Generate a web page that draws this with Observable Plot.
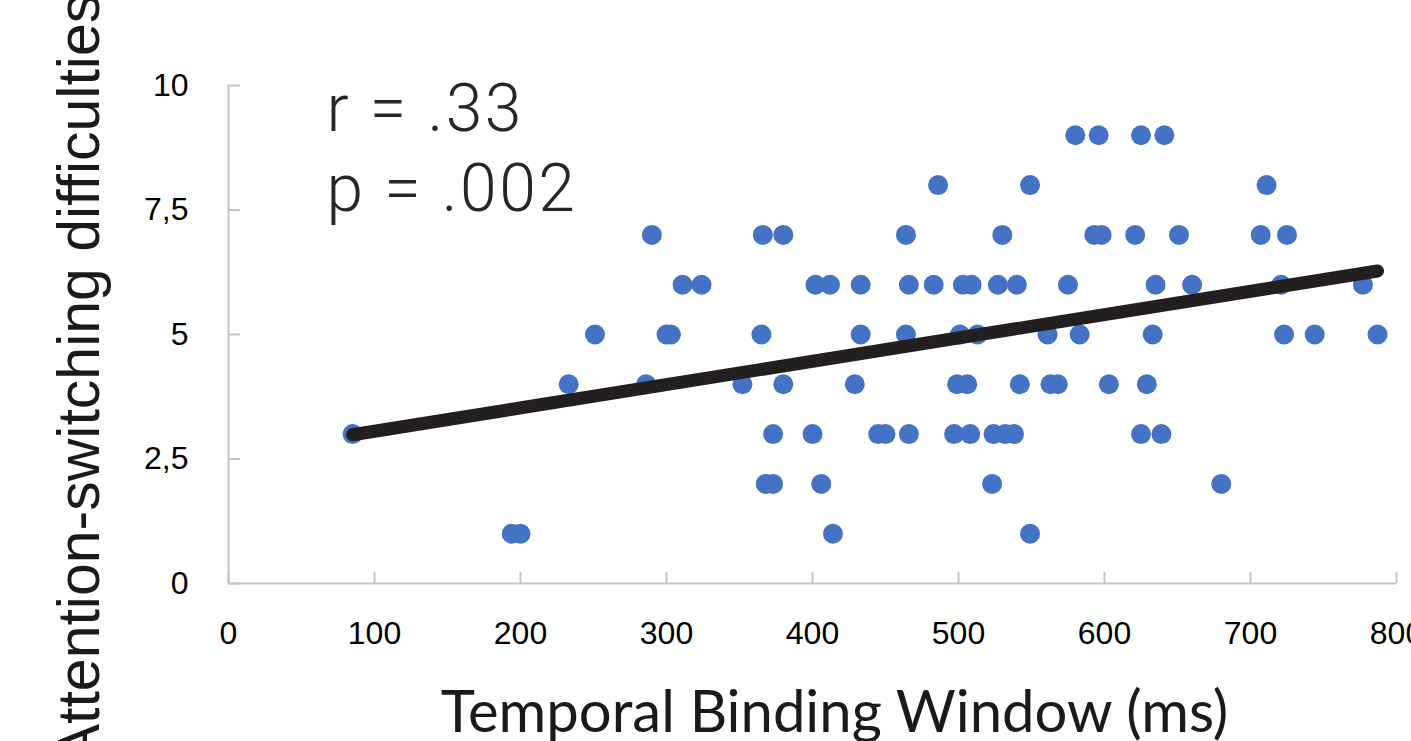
<!DOCTYPE html>
<html>
<head>
<meta charset="utf-8">
<script src="https://cdn.jsdelivr.net/npm/d3@7"></script>
<script src="https://cdn.jsdelivr.net/npm/@observablehq/plot@0.6"></script>
<style>
  html, body { margin: 0; padding: 0; background: #fff; overflow: hidden; }
  #chart svg { display: block; }
</style>
</head>
<body>
<div id="chart"></div>
<script>
// Temporal Binding Window (ms) for each participant
const tbwMs = [
  580, 596, 625, 641,
  486, 549, 711,
  290, 366, 380, 464, 530, 593, 598, 621, 651, 707, 725,
  311, 324, 402, 412, 433, 466, 483, 503, 509, 527, 540, 575, 635, 660, 721, 777,
  251, 300, 303, 365, 433, 464, 501, 513, 561, 583, 633, 723, 744, 787,
  233, 286, 352, 380, 429, 499, 506, 542, 563, 568, 603, 629,
  85, 373, 400, 445, 450, 466, 497, 508, 524, 532, 538, 625, 639,
  368, 373, 406, 523, 680,
  194, 200, 414, 549
];
// Attention-switching difficulties score for each participant
const attentionScore = [
  9, 9, 9, 9,
  8, 8, 8,
  7, 7, 7, 7, 7, 7, 7, 7, 7, 7, 7,
  6, 6, 6, 6, 6, 6, 6, 6, 6, 6, 6, 6, 6, 6, 6, 6,
  5, 5, 5, 5, 5, 5, 5, 5, 5, 5, 5, 5, 5, 5,
  4, 4, 4, 4, 4, 4, 4, 4, 4, 4, 4, 4,
  3, 3, 3, 3, 3, 3, 3, 3, 3, 3, 3, 3, 3,
  2, 2, 2, 2, 2,
  1, 1, 1, 1
];

const xTicks = [0, 100, 200, 300, 400, 500, 600, 700, 800];
const yTicks = [0, 2.5, 5, 7.5, 10];
const yTickLabels = ["0", "2,5", "5", "7,5", "10"];

const xTitle = "Temporal Binding Window (ms)";
const yTitle = "Attention-switching difficulties";
const statsText = "r = .33\np = .002";

const data = tbwMs.map((x, i) => ({x, y: attentionScore[i]}));

const W = 1411, H = 741;
const mL = 228, mR = 15, mT = 85, mB = 158;
const frameW = W - mL - mR, frameH = H - mT - mB;
const axisGray = "#c4c4c4";

const chart = Plot.plot({
  width: W,
  height: H,
  marginLeft: mL,
  marginRight: mR,
  marginTop: mT,
  marginBottom: mB,
  style: {fontFamily: "'Liberation Sans', Arial, sans-serif", color: "#000", background: "#fff"},
  x: {domain: [0, 800]},
  y: {domain: [0, 10]},
  marks: [
    // axis lines
    Plot.ruleX([0], {stroke: axisGray, strokeWidth: 2}),
    Plot.ruleY([0], {stroke: axisGray, strokeWidth: 2}),
    // inside tick marks
    Plot.ruleX(xTicks, {stroke: axisGray, strokeWidth: 2, insetTop: frameH - 11}),
    Plot.ruleY(yTicks, {stroke: axisGray, strokeWidth: 2, insetRight: frameW - 12}),
    // tick labels
    Plot.axisX({ticks: xTicks, tickSize: 0, tickPadding: 38, fontSize: 32, label: null, tickFormat: d => String(d)}),
    Plot.axisY({ticks: yTicks, tickSize: 0, tickPadding: 40, fontSize: 32, label: null,
      tickFormat: d => yTickLabels[yTicks.indexOf(d)]}),
    // points
    Plot.dot(data, {x: "x", y: "y", r: 10, fill: "#4472C4", stroke: null}),
    // trend line
    Plot.linearRegressionY(data, {x: "x", y: "y", ci: 0, stroke: "#231f20", strokeWidth: 13, strokeLinecap: "round"}),
    // stats annotation
    Plot.text([statsText], {
      text: d => d, frameAnchor: "top-left", dx: 98, dy: -11,
      textAnchor: "start", lineAnchor: "top", lineHeight: 1.21,
      fontSize: 66, fontWeight: 300, fontFamily: "Roboto, 'Open Sans', sans-serif", fill: "#262626"
    }),
    // x title
    Plot.text([xTitle], {
      text: d => d, frameAnchor: "bottom", dx: 22, dy: 107,
      textAnchor: "middle", lineAnchor: "top",
      fontSize: 58, fontFamily: "Lato, sans-serif", fill: "#1a1a1a"
    }),
    // y title
    Plot.text([yTitle], {
      text: d => d, frameAnchor: "left", dx: -148, dy: 44, rotate: -90,
      textAnchor: "middle", lineAnchor: "middle",
      fontSize: 59, fontFamily: "'Liberation Sans', Arial, sans-serif", fill: "#1a1a1a"
    })
  ]
});

// slightly wider tracking for the light annotation text
d3.select(chart).selectAll('g[font-family^="Roboto"] text').style("letter-spacing", "2.5px");

document.getElementById("chart").appendChild(chart);
</script>
</body>
</html>
